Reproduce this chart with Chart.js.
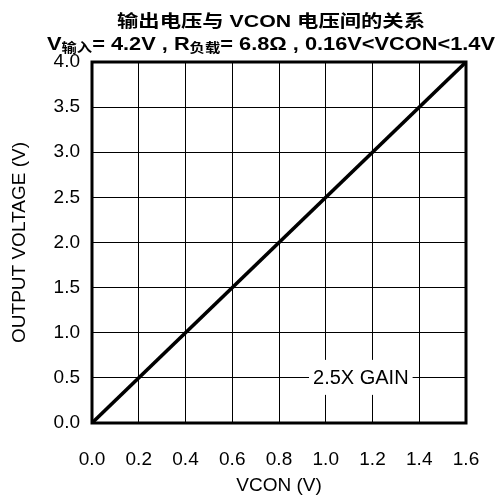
<!DOCTYPE html>
<html>
<head>
<meta charset="utf-8">
<script src="https://cdn.jsdelivr.net/npm/chart.js@4.4.1/dist/chart.umd.min.js"></script>
<style>
  html, body { margin: 0; padding: 0; background: #fff; }
  #wrap { position: relative; width: 500px; height: 497px; overflow: hidden; }
  #c { position: absolute; left: 0; top: 0; }
  .ttl { position: absolute; left: 0; white-space: nowrap; font-weight: bold; color: #000;
         font-family: "Liberation Sans", Arial, "Noto Sans CJK SC", sans-serif; transform-origin: 0 0; }
  #t1 { font-size: 17px; line-height: 17px; top: 12.6px; }
  #t2 { font-size: 18.5px; line-height: 18px; top: 34.6px; }
  .sb { font-size: 13px; position: relative; top: 2px; }
</style>
</head>
<body>
<div id="wrap">
  <canvas id="c" width="500" height="497"></canvas>
  <div id="t1" class="ttl">输出电压与 VCON 电压间的关系</div>
  <div id="t2" class="ttl">V<span class="sb">输入</span>= 4.2V , R<span class="sb">负载</span>= 6.8Ω , 0.16V&lt;VCON&lt;1.4V</div>
</div>
<script>
// ---- data ----
const xTickValues = [0.0, 0.2, 0.4, 0.6, 0.8, 1.0, 1.2, 1.4, 1.6];
const yTickValues = [0.0, 0.5, 1.0, 1.5, 2.0, 2.5, 3.0, 3.5, 4.0];
const vconValues = [0.0, 1.6];
const outputVoltage = [0.0, 4.0];
const gainLabel = '2.5X GAIN';
const gainLabelAt = [1.15, 0.5];
const xTitle = 'VCON (V)';
const yTitle = 'OUTPUT VOLTAGE (V)';

// ---- title fit ----
function fitTitle(id, centerX, targetW) {
  const el = document.getElementById(id);
  const w = el.getBoundingClientRect().width;
  el.style.left = (centerX - targetW / 2) + 'px';
  el.style.transform = 'scaleX(' + (targetW / w) + ')';
}
fitTitle('t1', 271, 308);
fitTitle('t2', 271, 448);

const FONT = "'Liberation Sans', Arial, sans-serif";
Chart.defaults.color = '#000';
Chart.defaults.font.family = FONT;

const framePlugin = {
  id: 'frame',
  afterDraw(chart) {
    const { ctx, chartArea: a, scales: { x, y } } = chart;
    ctx.save();
    ctx.strokeStyle = '#000';
    ctx.lineWidth = 3;
    ctx.strokeRect(a.left, a.top, a.right - a.left, a.bottom - a.top);
    // gain label on its gridline
    const px = x.getPixelForValue(gainLabelAt[0]);
    const py = y.getPixelForValue(gainLabelAt[1]);
    ctx.font = '20px ' + FONT;
    const w = ctx.measureText(gainLabel).width;
    ctx.fillStyle = '#fff';
    ctx.fillRect(px - w / 2 - 4, py - 18, w + 8, 35);
    ctx.fillStyle = '#000';
    ctx.textAlign = 'center';
    ctx.textBaseline = 'middle';
    ctx.fillText(gainLabel, px, py + 1);
    ctx.restore();
  }
};

new Chart(document.getElementById('c'), {
  type: 'line',
  data: {
    datasets: [{
      data: vconValues.map((v, i) => ({ x: v, y: outputVoltage[i] })),
      borderColor: '#000',
      borderWidth: 3.5,
      pointRadius: 0,
      fill: false,
      tension: 0
    }]
  },
  options: {
    responsive: false,
    animation: false,
    devicePixelRatio: 1,
    layout: { padding: { top: 62, right: 34, bottom: 0, left: 0 } },
    plugins: { legend: { display: false }, tooltip: { enabled: false }, title: { display: false } },
    scales: {
      x: {
        type: 'linear', min: 0, max: 1.6,
        afterBuildTicks: s => { s.ticks = xTickValues.map(v => ({ value: v })); },
        afterFit: s => { s.height = 74; },
        ticks: { font: { size: 19 }, padding: 0, maxRotation: 0, autoSkip: false,
                 callback: v => Number(v).toFixed(1) },
        grid: { color: '#000', lineWidth: 1, drawTicks: true, tickLength: 25, tickColor: 'rgba(0,0,0,0)' },
        border: { display: false },
        title: { display: true, text: xTitle, font: { size: 19, lineHeight: 1.2 }, padding: { top: 0, bottom: 0 } }
      },
      y: {
        type: 'linear', min: 0, max: 4.0,
        afterBuildTicks: s => { s.ticks = yTickValues.map(v => ({ value: v })); },
        afterFit: s => { s.width = 92; },
        ticks: { font: { size: 19 }, padding: 12, autoSkip: false,
                 callback: v => Number(v).toFixed(1) },
        grid: { color: '#000', lineWidth: 1, drawTicks: false },
        border: { display: false },
        title: { display: true, text: yTitle, font: { size: 19, lineHeight: 1.2 }, padding: { top: 8, bottom: 0 } }
      }
    }
  },
  plugins: [framePlugin]
});
</script>
</body>
</html>
